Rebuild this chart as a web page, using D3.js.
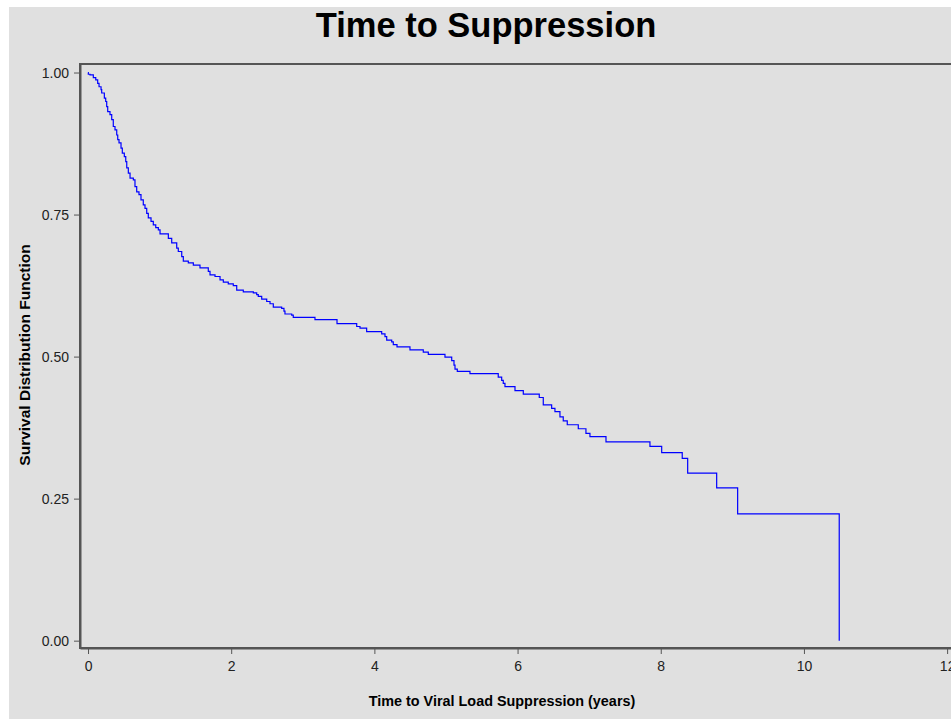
<!DOCTYPE html>
<html>
<head>
<meta charset="utf-8">
<script src="https://cdn.jsdelivr.net/npm/d3@7"></script>
<style>
  body { margin: 0; background: #fff; }
  svg { display: block; font-family: "Liberation Sans", Arial, sans-serif; }
  .axis path, .axis line { stroke: #555; }
  .axis text { fill: #222; font-size: 14px; }
  .title { font-size: 34.5px; font-weight: bold; fill: #000; }
  .label { font-size: 14.4px; font-weight: bold; fill: #000; }
  .label.y { font-size: 15.5px; }
</style>
</head>
<body>
<svg class="chart" width="951" height="719"></svg>
<script>
// Kaplan-Meier estimate (time in years, survival after each drop)
var eventTimes = [
  0, 0.004, 0.028, 0.074, 0.108, 0.135, 0.154, 0.182, 0.191, 0.228, 0.247,
  0.261, 0.275, 0.307, 0.331, 0.353, 0.377, 0.401, 0.415, 0.433, 0.461,
  0.479, 0.507, 0.527, 0.541, 0.563, 0.587, 0.633, 0.656, 0.680, 0.712,
  0.740, 0.772, 0.796, 0.820, 0.842, 0.880, 0.912, 0.946, 0.982, 1.006,
  1.122, 1.169, 1.239, 1.261, 1.309, 1.331, 1.401, 1.471, 1.564, 1.680,
  1.704, 1.774, 1.844, 1.890, 1.959, 2.029, 2.077, 2.169, 2.309, 2.356,
  2.378, 2.426, 2.496, 2.542, 2.588, 2.705, 2.737, 2.751, 2.845, 2.867,
  3.170, 3.478, 3.753, 3.799, 3.892, 4.102, 4.148, 4.172, 4.242, 4.264,
  4.316, 4.497, 4.683, 4.753, 4.986, 5.080, 5.112, 5.126, 5.158, 5.335,
  5.730, 5.778, 5.800, 5.824, 5.964, 6.080, 6.303, 6.359, 6.476, 6.522,
  6.592, 6.638, 6.694, 6.848, 6.955, 7.011, 7.235, 7.849, 8.013, 8.300,
  8.376, 8.781, 9.074, 10.493
];
var survival = [
  1.000, 0.997, 0.996, 0.991, 0.987, 0.981, 0.975, 0.970, 0.964, 0.955, 0.949,
  0.940, 0.931, 0.926, 0.917, 0.905, 0.899, 0.890, 0.882, 0.876, 0.867,
  0.858, 0.852, 0.843, 0.832, 0.823, 0.814, 0.811, 0.799, 0.790, 0.785,
  0.776, 0.767, 0.761, 0.752, 0.744, 0.738, 0.732, 0.727, 0.723, 0.716,
  0.708, 0.700, 0.691, 0.685, 0.676, 0.668, 0.665, 0.661, 0.656, 0.650,
  0.644, 0.641, 0.635, 0.631, 0.628, 0.625, 0.617, 0.614, 0.612, 0.609,
  0.606, 0.601, 0.597, 0.593, 0.587, 0.585, 0.580, 0.575, 0.573, 0.569,
  0.565, 0.558, 0.553, 0.550, 0.544, 0.540, 0.535, 0.529, 0.526, 0.521,
  0.517, 0.512, 0.508, 0.504, 0.499, 0.493, 0.485, 0.478, 0.474, 0.470,
  0.464, 0.458, 0.453, 0.447, 0.440, 0.434, 0.428, 0.415, 0.409, 0.403,
  0.394, 0.387, 0.380, 0.373, 0.365, 0.359, 0.350, 0.342, 0.331, 0.321,
  0.295, 0.269, 0.223, 0.000
];
var xTicks = [0, 2, 4, 6, 8, 10, 12];
var yTicks = [0, 0.25, 0.5, 0.75, 1];

var titleText = "Time to Suppression";
var xLabel = "Time to Viral Load Suppression (years)";
var yLabel = "Survival Distribution Function";

(function() {
  var svg = d3.select(".chart"),
      svgWidth = +svg.attr("width"),
      svgHeight = +svg.attr("height");

  // plot frame runs a little past the right edge, like the original
  var margin = {top: 64, right: -4, bottom: 71, left: 80};
  var width = svgWidth - margin.left - margin.right,
      height = svgHeight - margin.top - margin.bottom;

  // grey page background with a thin white strip top/left
  svg.append("rect")
    .attr("x", 9)
    .attr("y", 7)
    .attr("width", svgWidth - 9)
    .attr("height", svgHeight - 7)
    .attr("fill", "#e0e0e0");

  svg.append("text")
    .attr("class", "title")
    .attr("x", 486)
    .attr("y", 37)
    .attr("text-anchor", "middle")
    .text(titleText);

  var chart = svg.append("g")
    .attr("transform", "translate(" + margin.left + "," + margin.top + ")");

  var xScale = d3.scaleLinear()
    .domain([-0.112, 12.11])
    .range([0, width]);

  var yScale = d3.scaleLinear()
    .domain([-0.0129, 1.015])
    .range([height, 0]);

  var data = eventTimes.map(function(t, i) {
    return {time: t, surv: survival[i]};
  });

  // frame
  chart.append("rect")
    .attr("width", width)
    .attr("height", height)
    .attr("fill", "none")
    .attr("stroke", "#555")
    .attr("stroke-width", 2);

  var line = d3.line()
    .curve(d3.curveStepAfter)
    .x(function(d) { return xScale(d.time); })
    .y(function(d) { return yScale(d.surv); });

  chart.append("path")
    .datum(data)
    .attr("fill", "none")
    .attr("stroke", "#0000ff")
    .attr("stroke-width", 1.2)
    .attr("d", line);

  var xAxis = d3.axisBottom(xScale)
    .tickValues(xTicks)
    .tickFormat(d3.format("d"))
    .tickSize(6)
    .tickSizeOuter(0)
    .tickPadding(7);

  var yAxis = d3.axisLeft(yScale)
    .tickValues(yTicks)
    .tickFormat(d3.format(".2f"))
    .tickSize(6)
    .tickSizeOuter(0)
    .tickPadding(5);

  // Add the x Axis
  var gx = chart.append("g")
    .attr("class", "axis")
    .attr("transform", "translate(0," + height + ")")
    .call(xAxis);
  gx.select(".domain").attr("stroke-width", 2);

  // Add the y Axis
  var gy = chart.append("g")
    .attr("class", "axis")
    .call(yAxis);
  gy.select(".domain").attr("stroke-width", 2);

  svg.append("text")
    .attr("class", "label")
    .attr("x", 502)
    .attr("y", 706)
    .attr("text-anchor", "middle")
    .text(xLabel);

  svg.append("text")
    .attr("class", "label y")
    .attr("transform", "translate(30,355) rotate(-90)")
    .attr("text-anchor", "middle")
    .text(yLabel);
})();
</script>
</body>
</html>
